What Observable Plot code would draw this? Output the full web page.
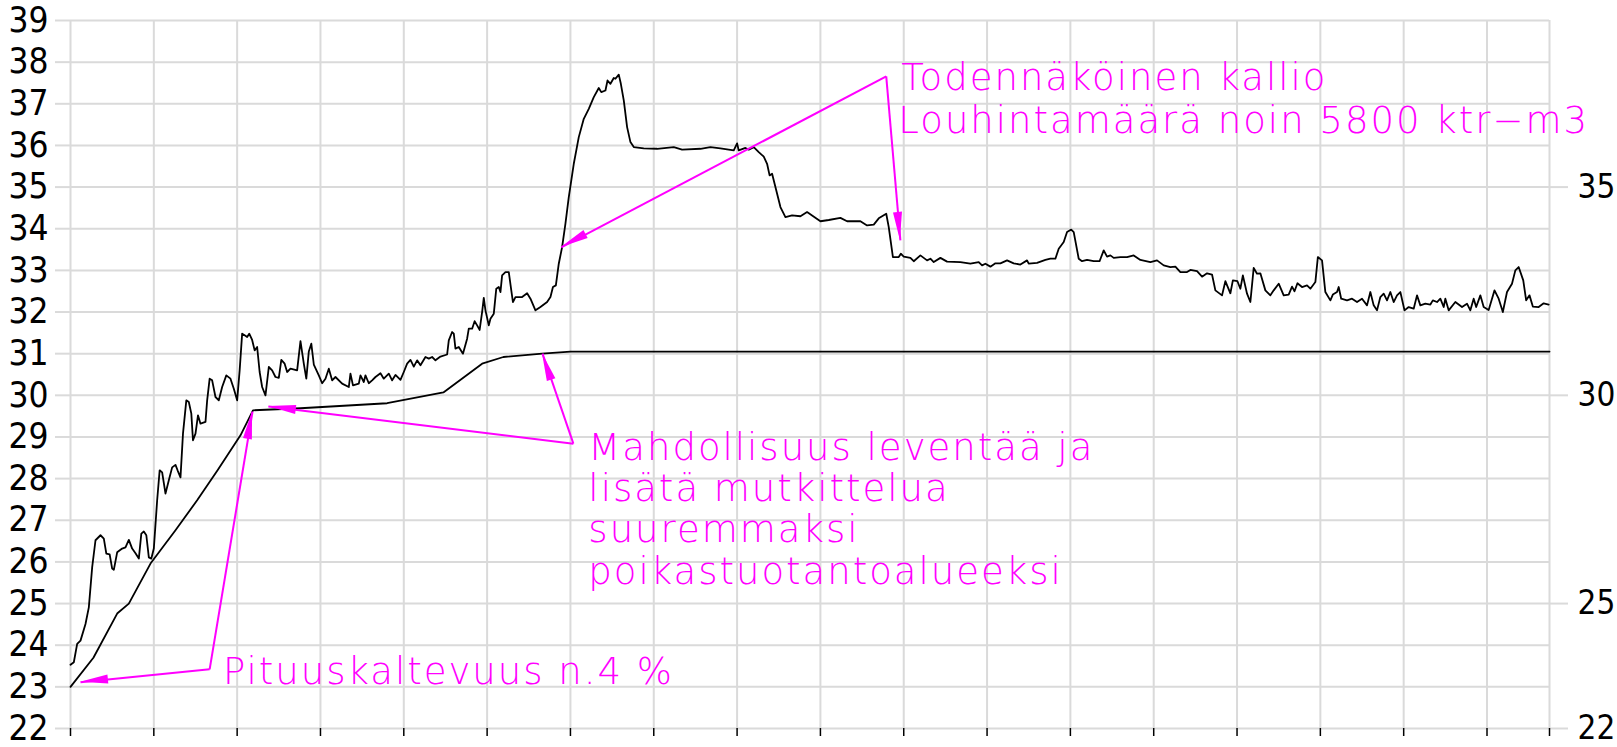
<!DOCTYPE html>
<html><head><meta charset="utf-8">
<script src="https://cdn.jsdelivr.net/npm/d3@7"></script>
<script src="https://cdn.jsdelivr.net/npm/@observablehq/plot@0.6"></script>
<style>html,body{margin:0;padding:0;background:#fff;overflow:hidden}</style>
</head><body><div id="chart"></div>
<script>
// Ground profile (measured surface)
const groundX = [0,0.8,1.6,2.4,3.6,4.4,5.2,6.0,7.2,8.0,8.6,9.4,10.0,10.4,11.2,12.4,13.2,14.0,14.8,15.6,16.4,17.0,17.6,18.2,18.8,19.4,20.0,20.8,21.4,22.0,22.8,23.6,24.4,25.2,25.7,26.4,27.0,27.8,28.4,29.0,29.4,30.0,30.6,31.2,32.4,32.8,33.4,34.0,34.8,35.6,36.4,37.4,38.4,39.2,40.0,40.6,41.2,41.8,42.4,42.9,43.6,44.2,44.8,45.4,46.0,46.8,47.6,48.4,49.2,50.0,50.6,51.4,52.0,52.8,54.4,55.2,56.0,56.6,57.2,57.8,58.4,59.6,60.4,61.2,62.0,62.8,63.6,65.2,66.8,67.2,67.8,69.2,69.6,70.4,70.8,71.6,72.4,73.2,74.4,75.2,76.4,77.2,78.0,79.2,80.0,80.8,81.6,82.4,83.2,84.0,85.2,86.0,86.8,87.6,88.8,90.4,90.8,91.6,92.0,92.4,93.2,94.2,95.2,95.6,96.4,97.0,97.6,98.2,98.8,99.2,99.6,100.4,100.8,101.6,102.2,102.8,103.2,103.6,104.4,105.2,105.8,106.2,106.8,108.4,109.6,110.4,111.6,112.8,114.4,115.2,115.8,116.5,117.2,118.0,118.8,119.6,120.8,122.0,123.2,124.4,125.6,126.8,127.4,128.4,128.9,129.6,130.4,130.8,131.6,132.1,132.8,133.6,134.4,135.2,137.6,140.8,144.8,146.8,151.2,153.6,156.0,159.2,160.0,160.4,162.0,162.8,164.0,165.2,166.4,167.2,167.8,168.4,169.2,170.4,171.6,173.2,175.2,176.8,178.0,180.0,182.0,184.8,186.4,189.6,191.2,192.8,194.0,195.8,196.4,197.4,198.8,199.3,200.0,201.6,202.4,204.0,205.6,206.4,207.2,208.8,210.4,213.6,216.0,218.0,218.8,219.6,220.8,222.0,223.2,224.8,226.4,228.0,229.6,230.0,232.0,234.0,235.2,236.4,237.2,238.4,239.2,240.2,240.8,242.0,242.8,244.0,245.6,247.0,248.0,248.8,249.6,250.4,252.0,253.6,255.2,256.8,259.2,260.8,262.4,264.0,265.2,266.4,268.0,268.8,270.4,271.6,272.8,274.0,274.8,276.4,277.2,278.4,279.0,280.1,280.8,281.4,282.4,283.2,284.0,284.8,285.6,286.8,288.0,288.8,290.0,291.2,292.4,293.2,293.8,294.5,295.6,296.8,297.6,298.8,299.4,300.4,301.2,302.4,303.0,304.0,304.4,305.0,306.4,307.6,308.8,310.0,311.2,312.0,312.8,313.6,314.4,315.2,316.0,316.8,317.6,318.4,319.2,320.2,321.2,322.4,323.2,324.0,325.2,326.4,327.0,328.0,328.8,329.6,330.0,330.8,332.4,334.0,335.2,336.0,336.8,337.4,338.4,339.2,340.4,341.2,341.8,342.8,343.8,344.8,346.0,346.8,347.6,348.7,349.4,350.2,351.0,352.4,353.6,354.8];
const groundZ = [23.53,23.59,24.03,24.11,24.51,24.91,25.87,26.52,26.64,26.56,26.20,26.18,25.84,25.81,26.23,26.32,26.35,26.53,26.32,26.21,26.08,26.68,26.73,26.64,26.11,26.08,26.32,27.48,28.20,28.15,27.64,27.96,28.27,28.33,28.20,28.03,29.08,29.88,29.84,29.56,28.92,29.08,29.52,29.32,29.36,29.88,30.40,30.36,29.96,29.88,30.20,30.48,30.40,30.16,29.88,30.60,31.48,31.44,31.40,31.48,31.33,31.08,31.16,30.56,30.20,30.00,30.68,30.60,30.44,30.42,30.85,30.76,30.56,30.64,30.60,31.30,30.76,30.40,31.05,31.24,30.74,30.48,30.29,30.40,30.64,30.36,30.44,30.28,30.20,30.52,30.24,30.28,30.48,30.32,30.48,30.29,30.36,30.44,30.53,30.40,30.52,30.36,30.49,30.37,30.56,30.76,30.85,30.69,30.84,30.72,30.92,30.88,30.92,30.84,30.93,30.98,31.32,31.52,31.48,31.12,31.16,31.00,31.36,31.60,31.60,31.78,31.68,31.57,32.00,32.34,32.04,31.68,31.84,31.96,32.56,32.60,32.48,32.88,32.96,32.96,32.52,32.24,32.36,32.36,32.45,32.32,32.04,32.12,32.24,32.36,32.60,32.64,33.16,33.56,34.12,34.76,35.56,36.20,36.64,36.88,37.16,37.38,37.28,37.32,37.56,37.48,37.62,37.60,37.70,37.48,37.08,36.44,36.08,35.96,35.93,35.92,35.96,35.90,35.92,35.96,35.93,35.88,36.05,35.88,35.94,35.90,35.96,35.84,35.73,35.56,35.28,35.32,35.00,34.52,34.28,34.32,34.30,34.40,34.32,34.18,34.21,34.26,34.18,34.18,34.08,34.10,34.25,34.36,34.04,33.32,33.32,33.40,33.33,33.30,33.22,33.36,33.24,33.28,33.20,33.30,33.21,33.20,33.16,33.20,33.12,33.16,33.09,33.17,33.17,33.24,33.17,33.14,33.24,33.16,33.18,33.25,33.28,33.28,33.52,33.68,33.92,33.98,33.92,33.28,33.22,33.25,33.22,33.22,33.48,33.33,33.36,33.30,33.32,33.32,33.36,33.25,33.20,33.24,33.12,33.08,33.09,32.96,32.96,33.01,32.98,32.85,32.93,32.90,32.52,32.40,32.74,32.45,32.76,32.74,32.56,32.88,32.44,32.24,33.06,32.92,32.93,32.52,32.40,32.52,32.68,32.40,32.42,32.61,32.50,32.69,32.60,32.64,32.56,32.72,33.32,33.24,32.48,32.28,32.42,32.48,32.60,32.32,32.28,32.32,32.24,32.32,32.16,32.48,32.16,32.04,32.36,32.44,32.28,32.48,32.24,32.40,32.48,32.04,32.12,32.08,32.40,32.16,32.20,32.18,32.28,32.24,32.32,32.12,32.32,32.04,32.24,32.12,32.20,32.04,32.32,32.12,32.40,32.12,32.05,32.32,32.52,32.32,32.00,32.48,32.68,33.00,33.08,32.76,32.28,32.40,32.13,32.12,32.21,32.18];

// Design profile (channel bottom)
const designX = [0,5.5,11.2,14,19.2,25.2,30.4,35.3,40.8,43.8,55.2,76,89.5,98.8,103.9,113.2,120,355];
const designZ = [23.0,23.7,24.76,25.0,25.96,26.76,27.48,28.2,29.04,29.64,29.69,29.81,30.07,30.76,30.92,31.0,31.05,31.05];

// Axes
const yTicksLeft = d3.range(22, 40);
const yTicksRight = [22, 25, 30, 35];
const xTicks = d3.range(0, 341, 20);
const xEnd = 355;

// Annotations
const labelText = [
  "Todennäköinen kallio",
  "Louhintamäärä noin 5800 ktr−m3",
  "Mahdollisuus leventää ja\nlisätä mutkittelua\nsuuremmaksi\npoikastuotantoalueeksi",
  "Pituuskaltevuus n.4 %"
];
const labelX = [199.4, 198.7, 124.3, 36.6];
const labelY = [37.33, 36.31, 25.48, 23.08];

const arrowFromX = [195.8, 195.8, 120.7, 120.7, 33.4, 33.4];
const arrowFromY = [37.66, 37.66, 28.84, 28.84, 23.42, 23.42];
const arrowToX   = [117.8, 199.2, 47.5, 113.3, 2.4, 43.7];
const arrowToY   = [33.55, 33.72, 29.73, 31.0, 23.11, 29.61];

const MAG = "#ff00ff";
const GRID = "#dadada";
const AXFONT = "'Liberation Sans Narrow', 'DejaVu Sans Condensed', 'Liberation Sans', sans-serif";
const ANFONT = "'DejaVu Sans', sans-serif";

const ground = groundX.map((x, i) => ({x, z: groundZ[i]}));
const design = designX.map((x, i) => ({x, z: designZ[i]}));
const labels = labelText.map((t, i) => ({t, x: labelX[i], y: labelY[i]}));
const arrows = arrowFromX.map((_, i) => ({x1: arrowFromX[i], y1: arrowFromY[i], x2: arrowToX[i], y2: arrowToY[i]}));

function arrowheads(index, scales) {
  const g = d3.create("svg:g").attr("fill", MAG).attr("aria-label", "arrowheads");
  for (const a of arrows) {
    const x1 = scales.x(a.x1), y1 = scales.y(a.y1), x2 = scales.x(a.x2), y2 = scales.y(a.y2);
    const ang = Math.atan2(y2 - y1, x2 - x1);
    const L = 28, W = 4.5;
    const bx = x2 - L * Math.cos(ang), by = y2 - L * Math.sin(ang);
    const px = -Math.sin(ang) * W, py = Math.cos(ang) * W;
    g.append("path").attr("d", `M${x2},${y2}L${bx + px},${by + py}L${bx - px},${by - py}Z`);
  }
  return g.node();
}

const chart = Plot.plot({
  width: 1617,
  height: 747,
  marginLeft: 70,
  marginRight: 68,
  marginTop: 20,
  marginBottom: 19,
  style: {fontFamily: AXFONT, fontSize: "35px", background: "#fff", color: "#000", overflow: "visible"},
  x: {domain: [0, xEnd], axis: null},
  y: {domain: [22, 39], axis: null},
  marks: [
    Plot.gridX(xTicks, {stroke: GRID, strokeOpacity: 1, strokeWidth: 2}),
    Plot.gridY(yTicksLeft, {stroke: GRID, strokeOpacity: 1, strokeWidth: 2}),
    Plot.ruleX([xEnd], {stroke: GRID, strokeWidth: 2}),
    Plot.axisY(yTicksLeft, {anchor: "left", tickSize: 15, tickPadding: 7, stroke: GRID, strokeWidth: 2, color: "#000", fill: "#000", fontSize: 35, fontFamily: AXFONT}),
    Plot.axisY(yTicksRight, {anchor: "right", tickSize: 18, tickPadding: 10, stroke: GRID, strokeWidth: 2, color: "#000", fill: "#000", fontSize: 33, fontFamily: AXFONT}),
    Plot.axisX([...xTicks, xEnd], {anchor: "bottom", tickSize: 8, stroke: "#000", strokeWidth: 1.5, tickFormat: () => ""}),
    Plot.line(design, {x: "x", y: "z", stroke: "#000", strokeWidth: 1.8}),
    Plot.line(ground, {x: "x", y: "z", stroke: "#000", strokeWidth: 1.8}),
    Plot.link(arrows, {x1: "x1", y1: "y1", x2: "x2", y2: "y2", stroke: MAG, strokeWidth: 2}),
    arrowheads,
    Plot.text(labels, {x: "x", y: "y", text: "t", textAnchor: "start", lineAnchor: "bottom", lineHeight: 1.116, fontSize: 37, fontFamily: ANFONT, fontWeight: 200, fill: MAG})
  ]
});
d3.select(chart).selectAll('g[fill="' + MAG + '"]').attr("letter-spacing", "2px");
document.getElementById("chart").appendChild(chart);
</script>
</body></html>
